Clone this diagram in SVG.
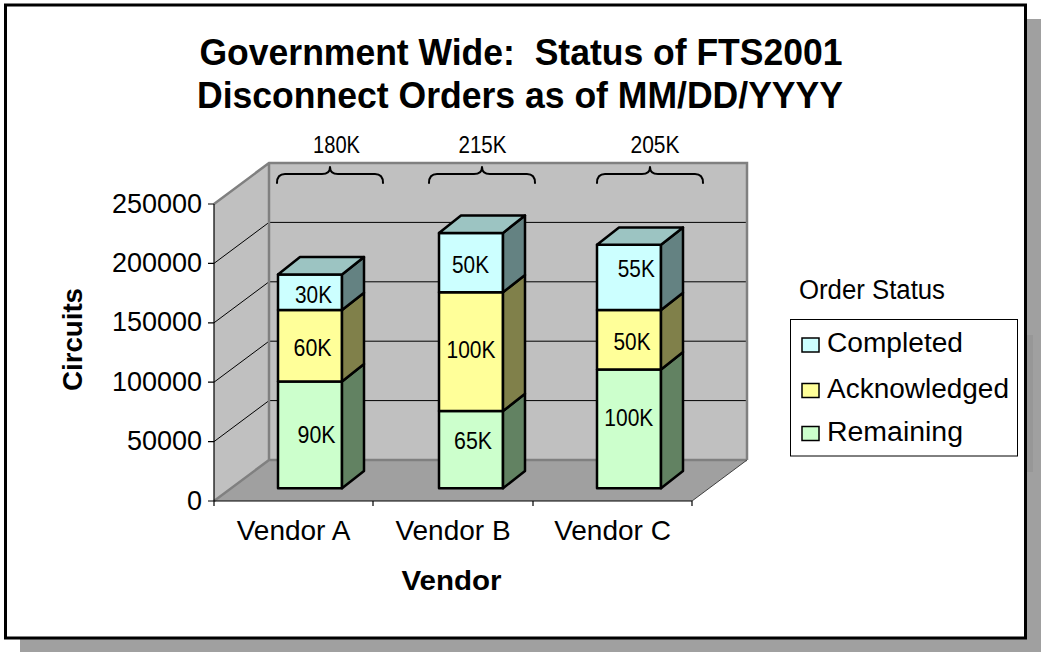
<svg xmlns="http://www.w3.org/2000/svg" width="1041" height="652" viewBox="0 0 1041 652">
<style>
text{font-family:"Liberation Sans",Arial,sans-serif;fill:#000}
.t{font-weight:bold;font-size:37px;text-anchor:middle;white-space:pre}
.tick{font-size:27px;text-anchor:end}
.cat{font-size:28px;text-anchor:middle}
.lbl{font-size:24px;text-anchor:middle}
.leg{font-size:27px}
.bar{stroke:#000;stroke-width:2.5;stroke-linejoin:round}
.rem{fill:#ccffcc}.remS{fill:#628262}
.ack{fill:#ffff99}.ackS{fill:#80804a}
.cmp{fill:#ccffff}.cmpS{fill:#648282}.cmpT{fill:#9cc4c2}
.grid{stroke:#000;stroke-width:1;fill:none}
.edge{stroke:#808080;stroke-width:2.5;fill:none}
.brace{stroke:#000;stroke-width:2;fill:none;stroke-linecap:round;stroke-linejoin:round}
</style>
<rect x="20" y="19" width="1021" height="633" fill="#a0a0a0"/>
<rect x="1027" y="335" width="6" height="137" fill="#979797"/>
<rect x="5.5" y="5" width="1020" height="633" fill="#fff" stroke="#000" stroke-width="3"/>
<g id="title">
<text class="t" x="521" y="65" textLength="643" lengthAdjust="spacingAndGlyphs" xml:space="preserve">Government Wide:  Status of FTS2001</text>
<text class="t" x="520" y="108" textLength="646" lengthAdjust="spacingAndGlyphs">Disconnect Orders as of MM/DD/YYYY</text>
</g>
<g id="plot-walls">
<polygon points="214,204 269,163 269,460 214,501" fill="#c0c0c0"/>
<rect x="269" y="163" width="478" height="297" fill="#c0c0c0"/>
<polygon points="214,501 692,501 747,460 269,460" fill="#a0a0a0"/>
<path class="grid" d="M269,222.4H747M269,281.8H747M269,341.2H747M269,400.6H747M214,263.4L269,222.4M214,322.8L269,281.8M214,382.2L269,341.2M214,441.6L269,400.6"/>
<path class="edge" d="M214,204L269,163H747V460M269,163V460H747M214,501L269,460"/>
<path d="M692,501L747,460" stroke="#404040" stroke-width="1" fill="none"/>
</g>
<g id="axes">
<path d="M214,204V501H692M208,204H214M208,263.4H214M208,322.8H214M208,382.2H214M208,441.6H214M208,501H214M214,501V506M373,501V506M533,501V506M692,501V506" stroke="#000" stroke-width="1.2" fill="none"/>
<text class="tick" x="202" y="213">250000</text>
<text class="tick" x="202" y="272">200000</text>
<text class="tick" x="202" y="331">150000</text>
<text class="tick" x="202" y="391">100000</text>
<text class="tick" x="202" y="450">50000</text>
<text class="tick" x="202" y="510">0</text>
<text class="cat" x="293.5" y="540">Vendor A</text>
<text class="cat" x="453" y="540">Vendor B</text>
<text class="cat" x="612.5" y="540">Vendor C</text>
<text x="451.5" y="590" font-size="27" font-weight="bold" text-anchor="middle" textLength="100" lengthAdjust="spacingAndGlyphs">Vendor</text>
<text x="0" y="0" font-size="28" font-weight="bold" text-anchor="middle" textLength="103" lengthAdjust="spacingAndGlyphs" transform="translate(82,339.5) rotate(-90)">Circuits</text>
</g>
<g id="bar-vendor-a">
<rect class="bar rem" x="278" y="381.4" width="64" height="106.9"/>
<polygon class="bar remS" points="342,488.3 364,470.9 364,364 342,381.4"/>
<rect class="bar ack" x="278" y="310.1" width="64" height="71.3"/>
<polygon class="bar ackS" points="342,381.4 364,364 364,292.7 342,310.1"/>
<rect class="bar cmp" x="278" y="274.5" width="64" height="35.6"/>
<polygon class="bar cmpS" points="342,310.1 364,292.7 364,257.1 342,274.5"/>
<polygon class="bar cmpT" points="278,274.5 300,257.1 364,257.1 342,274.5"/>
<text class="lbl" x="313.5" y="302.7" textLength="37" lengthAdjust="spacingAndGlyphs">30K</text>
<text class="lbl" x="312.5" y="356" textLength="38" lengthAdjust="spacingAndGlyphs">60K</text>
<text class="lbl" x="316.5" y="442.7" textLength="38" lengthAdjust="spacingAndGlyphs">90K</text>
</g>
<g id="bar-vendor-b">
<rect class="bar rem" x="439" y="411.1" width="64" height="77.2"/>
<polygon class="bar remS" points="503,488.3 525,470.9 525,393.7 503,411.1"/>
<rect class="bar ack" x="439" y="292.3" width="64" height="118.8"/>
<polygon class="bar ackS" points="503,411.1 525,393.7 525,274.9 503,292.3"/>
<rect class="bar cmp" x="439" y="232.9" width="64" height="59.4"/>
<polygon class="bar cmpS" points="503,292.3 525,274.9 525,215.5 503,232.9"/>
<polygon class="bar cmpT" points="439,232.9 461,215.5 525,215.5 503,232.9"/>
<text class="lbl" x="470.5" y="273.3" textLength="37" lengthAdjust="spacingAndGlyphs">50K</text>
<text class="lbl" x="471" y="358.3" textLength="49" lengthAdjust="spacingAndGlyphs">100K</text>
<text class="lbl" x="473" y="449" textLength="38" lengthAdjust="spacingAndGlyphs">65K</text>
</g>
<g id="bar-vendor-c">
<rect class="bar rem" x="597" y="369.5" width="64" height="118.8"/>
<polygon class="bar remS" points="661,488.3 683,470.9 683,352.1 661,369.5"/>
<rect class="bar ack" x="597" y="310.1" width="64" height="59.4"/>
<polygon class="bar ackS" points="661,369.5 683,352.1 683,292.7 661,310.1"/>
<rect class="bar cmp" x="597" y="244.8" width="64" height="65.3"/>
<polygon class="bar cmpS" points="661,310.1 683,292.7 683,227.4 661,244.8"/>
<polygon class="bar cmpT" points="597,244.8 619,227.4 683,227.4 661,244.8"/>
<text class="lbl" x="636.3" y="277.3" textLength="37" lengthAdjust="spacingAndGlyphs">55K</text>
<text class="lbl" x="632" y="350" textLength="37" lengthAdjust="spacingAndGlyphs">50K</text>
<text class="lbl" x="628.8" y="425.7" textLength="49" lengthAdjust="spacingAndGlyphs">100K</text>
</g>
<g id="connectors">
<path class="brace" d="M277,183Q277,174 285,174L322,174Q330,174 330,167Q330,174 338,174L375,174Q383,174 383,183"/>
<path class="brace" d="M429,183Q429,174 437,174L474,174Q482,174 482,167Q482,174 490,174L527,174Q535,174 535,183"/>
<path class="brace" d="M597,183Q597,174 605,174L642,174Q650,174 650,167Q650,174 658,174L695,174Q703,174 703,183"/>
</g>
<g id="totals">
<text class="lbl" x="336.5" y="152.5" font-size="25" textLength="47" lengthAdjust="spacingAndGlyphs">180K</text>
<text class="lbl" x="482.5" y="152.5" font-size="25" textLength="48" lengthAdjust="spacingAndGlyphs">215K</text>
<text class="lbl" x="655" y="152.5" font-size="25" textLength="49" lengthAdjust="spacingAndGlyphs">205K</text>
</g>
<g id="legend">
<text x="799" y="298.5" font-size="27" textLength="146" lengthAdjust="spacingAndGlyphs">Order Status</text>
<rect x="790.5" y="319.5" width="227" height="136.5" fill="#fff" stroke="#000" stroke-width="1"/>
<rect x="802" y="338" width="17" height="14" fill="#ccffff" stroke="#000" stroke-width="1.5"/>
<rect x="802" y="383.5" width="17" height="14" fill="#ffff99" stroke="#000" stroke-width="1.5"/>
<rect x="802" y="426.5" width="17" height="14" fill="#ccffcc" stroke="#000" stroke-width="1.5"/>
<text class="leg" x="827" y="352" textLength="136" lengthAdjust="spacingAndGlyphs">Completed</text>
<text class="leg" x="827" y="397.5" textLength="182" lengthAdjust="spacingAndGlyphs">Acknowledged</text>
<text class="leg" x="827" y="440.5" textLength="136" lengthAdjust="spacingAndGlyphs">Remaining</text>
</g>
</svg>
